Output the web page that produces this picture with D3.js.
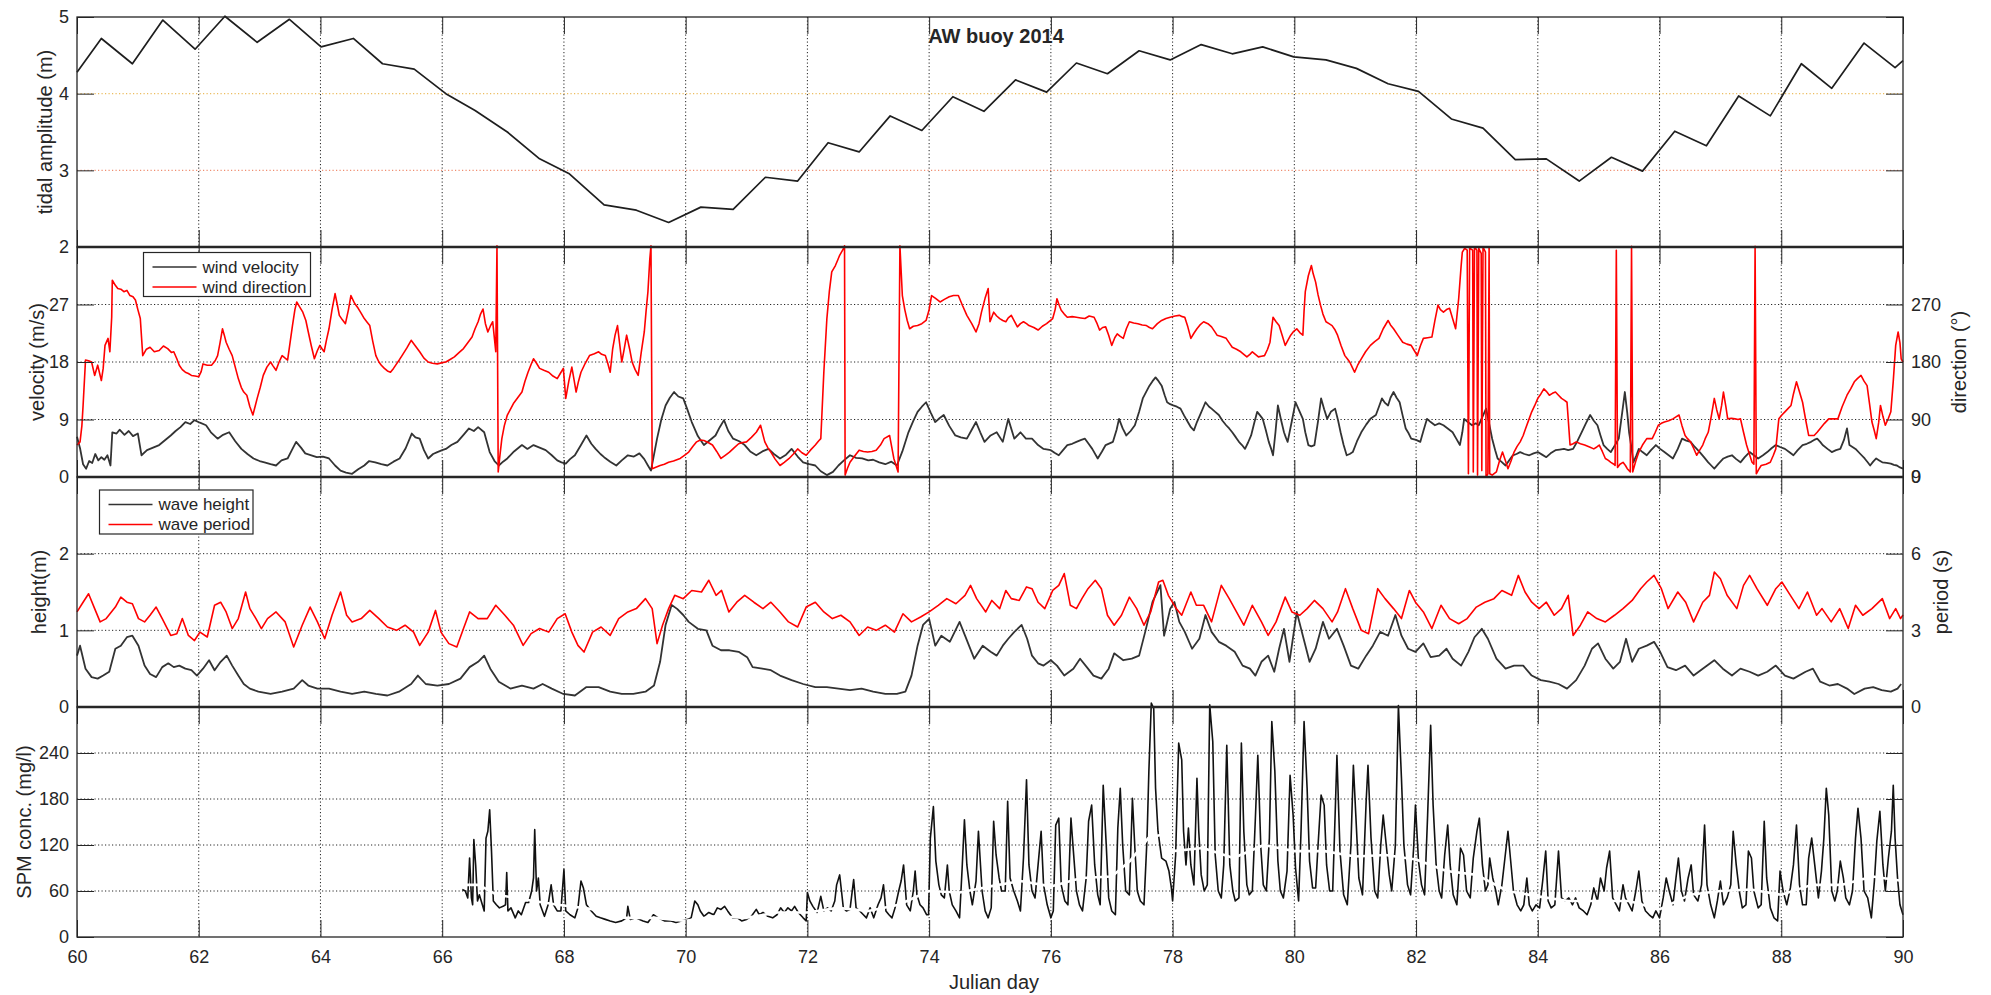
<!DOCTYPE html>
<html>
<head>
<meta charset="utf-8">
<script src="https://cdn.jsdelivr.net/npm/d3@7"></script>
<style>
  body { margin: 0; background: #fff; }
  svg { display: block; }
  text { font-family: "Liberation Sans", Arial, Helvetica, sans-serif; fill: #262626; }
</style>
</head>
<body>
<svg id="chart" width="1991" height="995"></svg>
<script>
// ---------- tick values ----------
const dayTicks = [60, 62, 64, 66, 68, 70, 72, 74, 76, 78, 80, 82, 84, 86, 88, 90];
const tideTicks = [2, 3, 4, 5];
const speedTicks = [0, 9, 18, 27];
const dirTicks = [0, 90, 180, 270];
const heightTicks = [0, 1, 2];
const periodTicks = [0, 3, 6];
const spmTicks = [0, 60, 120, 180, 240];

// ---------- series: [julian day, value] ----------
const tidalAmplitude = [[60.0,4.28],[60.4,4.72],[60.91,4.39],[61.41,4.96],[61.94,4.58],[62.43,5.01],[62.96,4.67],[63.49,4.97],[64.01,4.61],[64.54,4.72],[65.02,4.39],[65.54,4.32],[66.06,4.0],[66.54,3.78],[67.07,3.5],[67.6,3.15],[68.08,2.96],[68.66,2.55],[69.19,2.48],[69.72,2.32],[70.25,2.52],[70.78,2.49],[71.31,2.91],[71.84,2.86],[72.34,3.36],[72.85,3.24],[73.36,3.71],[73.88,3.52],[74.39,3.96],[74.9,3.77],[75.42,4.18],[75.93,4.02],[76.42,4.4],[76.93,4.26],[77.45,4.56],[77.96,4.44],[78.47,4.64],[78.98,4.52],[79.48,4.61],[79.99,4.48],[80.52,4.44],[81.02,4.33],[81.54,4.13],[82.04,4.03],[82.58,3.67],[83.1,3.55],[83.63,3.14],[84.14,3.15],[84.68,2.86],[85.21,3.17],[85.72,2.99],[86.25,3.51],[86.77,3.32],[87.3,3.97],[87.82,3.71],[88.33,4.39],[88.83,4.07],[89.36,4.66],[89.87,4.34],[90.0,4.43]];

const windVelocity = [[60.0,6.3],[60.05,4.5],[60.1,2.0],[60.15,1.3],[60.2,2.5],[60.25,2.2],[60.3,3.6],[60.35,2.6],[60.4,3.1],[60.45,2.7],[60.5,3.4],[60.55,1.8],[60.58,7.0],[60.65,6.8],[60.7,7.4],[60.78,6.6],[60.85,7.2],[60.92,6.4],[61.0,6.8],[61.06,3.4],[61.15,4.2],[61.25,4.6],[61.35,5.0],[61.45,5.8],[61.54,6.5],[61.62,7.2],[61.7,7.8],[61.78,8.6],[61.86,8.3],[61.93,8.9],[62.02,8.5],[62.12,8.1],[62.2,7.0],[62.31,6.0],[62.4,6.6],[62.5,7.0],[62.6,5.6],[62.7,4.4],[62.8,3.6],[62.9,2.9],[63.0,2.5],[63.08,2.3],[63.18,2.0],[63.27,1.8],[63.36,2.6],[63.46,2.9],[63.53,4.2],[63.6,5.5],[63.68,4.6],[63.75,3.7],[63.85,3.4],[63.94,3.1],[64.04,3.2],[64.14,2.9],[64.24,1.8],[64.33,1.0],[64.42,0.7],[64.52,0.5],[64.62,1.2],[64.72,1.8],[64.8,2.5],[64.9,2.3],[65.0,2.0],[65.1,1.8],[65.2,2.4],[65.3,2.9],[65.4,4.5],[65.5,6.8],[65.56,6.2],[65.63,6.0],[65.7,4.2],[65.77,2.9],[65.85,3.6],[65.92,3.9],[66.0,4.2],[66.06,4.4],[66.15,5.0],[66.25,5.5],[66.35,6.6],[66.44,7.6],[66.52,7.2],[66.59,7.8],[66.69,7.0],[66.78,3.9],[66.86,2.5],[66.93,1.8],[67.0,2.4],[67.07,2.9],[67.18,4.0],[67.31,5.0],[67.4,4.4],[67.5,5.0],[67.6,4.6],[67.7,4.2],[67.8,3.4],[67.89,2.6],[67.96,2.3],[68.03,2.1],[68.1,2.8],[68.18,3.4],[68.28,5.0],[68.37,6.5],[68.45,5.2],[68.52,4.4],[68.6,3.6],[68.66,3.1],[68.76,2.4],[68.86,1.8],[68.95,2.6],[69.05,3.4],[69.15,3.2],[69.24,3.7],[69.32,2.8],[69.38,1.8],[69.43,1.0],[69.48,3.5],[69.53,6.0],[69.6,9.0],[69.67,11.2],[69.74,12.4],[69.81,13.3],[69.88,12.6],[69.96,12.3],[70.03,10.5],[70.1,8.6],[70.2,6.4],[70.3,5.0],[70.4,5.8],[70.49,6.5],[70.56,7.8],[70.63,8.9],[70.7,7.2],[70.78,6.0],[70.88,5.6],[70.97,5.0],[71.06,4.0],[71.16,3.4],[71.26,4.0],[71.36,4.4],[71.45,3.6],[71.55,2.9],[71.65,3.5],[71.74,4.4],[71.84,3.2],[71.93,2.3],[72.03,2.0],[72.13,1.8],[72.22,0.9],[72.32,0.3],[72.42,0.8],[72.51,1.8],[72.6,2.6],[72.7,3.4],[72.8,3.0],[72.9,2.9],[73.0,2.6],[73.08,2.7],[73.18,2.3],[73.28,2.0],[73.38,2.4],[73.47,1.8],[73.56,4.0],[73.66,7.0],[73.74,8.8],[73.81,10.2],[73.88,11.0],[73.95,11.7],[74.03,10.0],[74.1,8.6],[74.17,9.2],[74.24,9.7],[74.33,8.0],[74.43,6.5],[74.52,6.2],[74.62,6.0],[74.7,7.4],[74.77,8.6],[74.84,7.0],[74.91,5.5],[75.01,6.5],[75.11,7.0],[75.21,5.5],[75.3,9.1],[75.4,6.0],[75.5,7.0],[75.59,6.0],[75.69,6.0],[75.79,5.0],[75.88,4.4],[76.0,4.2],[76.06,3.8],[76.13,3.4],[76.2,4.2],[76.27,5.0],[76.35,5.2],[76.42,5.5],[76.5,5.8],[76.56,6.0],[76.62,5.2],[76.68,4.4],[76.77,2.9],[76.84,4.0],[76.9,5.0],[77.02,5.5],[77.08,7.4],[77.12,9.1],[77.18,7.6],[77.24,6.5],[77.31,7.2],[77.38,8.1],[77.45,10.2],[77.51,12.3],[77.57,13.4],[77.62,14.3],[77.67,15.0],[77.72,15.6],[77.77,15.0],[77.82,14.3],[77.87,12.8],[77.91,11.7],[77.96,11.4],[78.01,11.2],[78.07,11.0],[78.13,10.7],[78.19,9.6],[78.25,8.6],[78.3,7.8],[78.35,7.3],[78.4,8.6],[78.45,9.7],[78.5,10.8],[78.54,11.7],[78.6,11.0],[78.64,10.7],[78.7,10.2],[78.76,9.7],[78.82,8.8],[78.88,8.1],[78.93,7.6],[78.98,7.0],[79.04,6.2],[79.09,5.5],[79.14,5.0],[79.19,4.4],[79.24,5.4],[79.29,6.5],[79.34,8.4],[79.39,10.2],[79.44,9.6],[79.48,9.1],[79.53,7.4],[79.58,5.5],[79.62,4.4],[79.65,3.4],[79.69,7.0],[79.73,11.2],[79.78,9.0],[79.83,7.0],[79.86,6.2],[79.89,5.5],[79.96,8.8],[80.02,11.7],[80.08,10.4],[80.14,9.1],[80.18,7.0],[80.23,5.0],[80.28,4.8],[80.33,5.0],[80.39,8.8],[80.44,12.3],[80.49,10.6],[80.54,9.1],[80.6,10.2],[80.67,10.7],[80.72,8.8],[80.76,7.0],[80.81,5.0],[80.86,3.4],[80.91,3.6],[80.96,3.9],[81.03,5.6],[81.1,7.0],[81.18,8.2],[81.25,9.1],[81.34,9.7],[81.39,11.0],[81.44,12.3],[81.49,11.6],[81.54,11.2],[81.58,12.4],[81.63,13.3],[81.68,12.4],[81.73,11.7],[81.78,9.6],[81.83,7.6],[81.88,6.8],[81.92,6.0],[82.0,5.8],[82.07,5.5],[82.12,7.2],[82.18,9.1],[82.24,8.6],[82.31,8.1],[82.38,8.4],[82.45,8.1],[82.52,7.6],[82.6,7.0],[82.66,6.0],[82.72,5.0],[82.76,7.0],[82.79,9.1],[82.85,8.6],[82.92,8.1],[82.98,8.4],[83.03,8.1],[83.09,9.4],[83.15,10.7],[83.2,8.4],[83.25,6.0],[83.3,4.2],[83.34,2.9],[83.4,2.4],[83.47,1.8],[83.53,2.6],[83.59,3.4],[83.65,3.6],[83.71,3.9],[83.78,3.6],[83.86,3.4],[83.93,3.7],[84.0,3.9],[84.07,3.5],[84.14,3.1],[84.21,3.7],[84.29,4.2],[84.36,4.3],[84.43,4.4],[84.5,4.2],[84.58,4.4],[84.65,5.6],[84.72,7.0],[84.79,8.4],[84.86,9.7],[84.92,8.8],[84.98,8.1],[85.03,6.5],[85.08,5.0],[85.14,4.4],[85.2,3.9],[85.27,5.0],[85.33,6.0],[85.38,9.6],[85.43,13.3],[85.47,10.0],[85.5,7.0],[85.54,4.5],[85.57,2.3],[85.62,3.4],[85.66,4.4],[85.72,3.9],[85.79,3.4],[85.86,4.2],[85.94,5.0],[86.01,4.4],[86.08,3.9],[86.15,3.4],[86.22,2.9],[86.3,4.4],[86.37,6.0],[86.44,5.7],[86.51,5.5],[86.58,4.7],[86.66,3.9],[86.73,3.1],[86.8,2.3],[86.85,1.8],[86.9,1.3],[86.97,2.1],[87.05,2.9],[87.12,3.2],[87.19,3.4],[87.26,2.8],[87.33,2.3],[87.4,3.1],[87.48,3.9],[87.55,3.4],[87.62,2.9],[87.7,3.4],[87.77,3.9],[87.84,4.5],[87.91,5.0],[87.98,4.7],[88.06,4.4],[88.13,3.9],[88.2,3.4],[88.27,4.2],[88.35,5.0],[88.42,5.2],[88.49,5.5],[88.54,5.8],[88.59,6.0],[88.64,5.5],[88.68,5.0],[88.76,4.4],[88.83,3.9],[88.9,4.2],[88.97,4.4],[89.03,5.8],[89.08,7.6],[89.12,5.0],[89.17,4.7],[89.22,4.4],[89.3,3.6],[89.37,2.9],[89.42,2.3],[89.46,1.8],[89.51,2.4],[89.56,2.9],[89.61,2.6],[89.66,2.3],[89.73,2.2],[89.8,2.1],[89.85,1.9],[89.9,1.8],[89.95,1.5],[90.0,1.3]];

const windDirection = [[60.0,50],[60.05,55],[60.08,80],[60.1,112],[60.14,183],[60.19,182],[60.24,180],[60.29,159],[60.34,175],[60.4,151],[60.43,170],[60.46,206],[60.51,217],[60.54,196],[60.57,250],[60.58,308],[60.63,300],[60.67,295],[60.72,294],[60.77,290],[60.82,292],[60.87,284],[60.92,282],[60.96,277],[61.0,262],[61.04,248],[61.08,190],[61.14,200],[61.2,203],[61.27,196],[61.35,198],[61.42,205],[61.49,201],[61.55,195],[61.59,196],[61.64,185],[61.68,175],[61.73,168],[61.78,164],[61.83,162],[61.88,159],[61.94,158],[62.0,157],[62.04,165],[62.07,177],[62.14,175],[62.21,175],[62.27,182],[62.31,190],[62.35,210],[62.39,232],[62.42,222],[62.45,211],[62.5,200],[62.55,190],[62.6,172],[62.65,154],[62.7,140],[62.74,133],[62.79,128],[62.84,110],[62.89,97],[62.93,112],[62.96,123],[63.01,140],[63.06,159],[63.12,172],[63.18,180],[63.22,174],[63.27,167],[63.32,180],[63.37,190],[63.42,186],[63.46,183],[63.5,210],[63.54,237],[63.58,262],[63.61,274],[63.66,266],[63.71,258],[63.76,245],[63.8,227],[63.85,205],[63.9,185],[63.95,198],[63.99,206],[64.03,200],[64.06,196],[64.1,215],[64.14,232],[64.19,262],[64.24,287],[64.28,268],[64.31,253],[64.36,246],[64.41,240],[64.46,262],[64.5,284],[64.56,272],[64.62,264],[64.67,256],[64.72,248],[64.77,242],[64.81,237],[64.86,212],[64.91,190],[64.96,180],[65.0,175],[65.05,170],[65.1,166],[65.15,164],[65.2,170],[65.25,177],[65.3,184],[65.34,190],[65.42,202],[65.49,214],[65.56,205],[65.63,196],[65.7,186],[65.77,180],[65.84,178],[65.92,177],[66.0,179],[66.06,180],[66.13,184],[66.2,188],[66.28,195],[66.35,201],[66.42,210],[66.49,219],[66.54,232],[66.59,243],[66.63,255],[66.67,263],[66.71,240],[66.75,227],[66.79,236],[66.83,243],[66.86,215],[66.88,196],[66.9,362],[66.92,8],[66.95,35],[66.98,60],[67.02,80],[67.07,97],[67.12,106],[67.17,115],[67.24,124],[67.31,133],[67.36,150],[67.41,164],[67.46,176],[67.5,185],[67.55,178],[67.6,170],[67.67,167],[67.75,164],[67.82,158],[67.89,154],[67.94,162],[67.99,170],[68.03,123],[68.08,150],[68.13,172],[68.17,150],[68.2,133],[68.24,150],[68.28,164],[68.35,178],[68.42,190],[68.5,193],[68.57,196],[68.62,192],[68.68,190],[68.72,178],[68.76,164],[68.8,200],[68.84,222],[68.88,237],[68.92,205],[68.95,180],[68.99,200],[69.03,222],[69.08,200],[69.12,180],[69.17,168],[69.22,159],[69.27,195],[69.32,227],[69.35,260],[69.38,290],[69.41,340],[69.43,362],[69.45,13],[69.5,15],[69.58,18],[69.65,20],[69.72,23],[69.8,25],[69.91,29],[69.98,34],[70.05,39],[70.12,48],[70.18,55],[70.24,58],[70.3,57],[70.37,54],[70.44,50],[70.51,40],[70.58,29],[70.65,34],[70.72,39],[70.8,46],[70.87,52],[70.94,54],[71.0,55],[71.08,62],[71.16,70],[71.23,81],[71.3,55],[71.35,46],[71.4,39],[71.47,28],[71.55,18],[71.62,23],[71.7,29],[71.77,36],[71.84,44],[71.91,38],[71.98,34],[72.05,42],[72.13,50],[72.18,56],[72.22,60],[72.27,164],[72.32,248],[72.36,290],[72.4,321],[72.46,331],[72.5,340],[72.53,347],[72.59,357],[72.61,362],[72.62,3],[72.66,14],[72.7,23],[72.77,32],[72.85,42],[72.92,40],[72.99,39],[73.06,40],[73.13,42],[73.2,50],[73.26,60],[73.35,65],[73.42,29],[73.49,8],[73.52,362],[73.56,284],[73.6,262],[73.64,245],[73.68,232],[73.74,236],[73.81,237],[73.88,240],[73.95,245],[74.0,262],[74.04,284],[74.1,280],[74.18,274],[74.25,278],[74.33,282],[74.4,284],[74.48,284],[74.55,268],[74.62,253],[74.7,240],[74.77,227],[74.82,240],[74.86,258],[74.92,280],[74.97,295],[75.0,243],[75.06,258],[75.11,252],[75.16,248],[75.21,245],[75.26,243],[75.3,249],[75.35,253],[75.4,244],[75.45,235],[75.5,240],[75.55,243],[75.6,240],[75.64,237],[75.72,234],[75.79,230],[75.86,236],[75.93,240],[76.03,248],[76.07,262],[76.1,279],[76.14,268],[76.17,261],[76.22,255],[76.27,250],[76.35,251],[76.42,250],[76.49,249],[76.56,248],[76.63,252],[76.71,250],[76.76,240],[76.8,230],[76.85,234],[76.9,235],[76.95,222],[77.0,206],[77.05,218],[77.09,224],[77.14,220],[77.19,217],[77.24,232],[77.29,243],[77.36,241],[77.43,240],[77.5,238],[77.57,237],[77.62,234],[77.67,232],[77.75,240],[77.82,245],[77.89,248],[77.96,250],[78.04,252],[78.11,253],[78.16,251],[78.2,250],[78.25,235],[78.3,217],[78.35,225],[78.4,232],[78.45,238],[78.51,243],[78.58,240],[78.64,235],[78.69,228],[78.73,222],[78.8,220],[78.88,217],[78.93,210],[78.98,203],[79.05,200],[79.12,196],[79.17,192],[79.22,188],[79.27,192],[79.31,196],[79.36,192],[79.41,188],[79.46,189],[79.51,190],[79.56,200],[79.6,211],[79.63,235],[79.65,250],[79.7,243],[79.75,237],[79.8,222],[79.85,206],[79.9,215],[79.94,222],[79.99,228],[80.04,232],[80.09,226],[80.14,222],[80.16,260],[80.18,290],[80.23,315],[80.28,331],[80.31,318],[80.35,305],[80.39,285],[80.43,269],[80.47,255],[80.52,243],[80.57,240],[80.62,237],[80.67,230],[80.71,222],[80.77,205],[80.83,190],[80.87,185],[80.91,180],[80.95,172],[80.99,164],[81.04,175],[81.1,185],[81.17,196],[81.25,206],[81.32,212],[81.39,217],[81.46,232],[81.54,245],[81.58,238],[81.63,232],[81.7,222],[81.78,211],[81.85,208],[81.92,206],[81.97,198],[82.02,190],[82.07,205],[82.12,217],[82.19,218],[82.26,219],[82.31,245],[82.36,269],[82.4,262],[82.45,258],[82.5,262],[82.55,264],[82.6,248],[82.65,232],[82.7,279],[82.74,330],[82.76,352],[82.8,358],[82.84,355],[82.86,5],[82.88,358],[82.93,355],[82.94,8],[82.96,360],[83.0,355],[83.01,3],[83.03,358],[83.07,350],[83.08,10],[83.1,360],[83.14,352],[83.15,0],[83.18,5],[83.2,360],[83.21,5],[83.25,3],[83.32,8],[83.37,25],[83.42,39],[83.47,25],[83.51,13],[83.56,25],[83.61,39],[83.66,48],[83.71,55],[83.76,65],[83.8,76],[83.85,89],[83.9,102],[83.95,112],[84.0,123],[84.05,130],[84.1,138],[84.15,133],[84.19,128],[84.24,131],[84.29,133],[84.34,128],[84.39,123],[84.44,120],[84.48,117],[84.53,50],[84.58,52],[84.63,55],[84.7,52],[84.77,50],[84.85,47],[84.92,44],[84.97,47],[85.01,50],[85.06,40],[85.11,29],[85.16,26],[85.2,23],[85.25,20],[85.27,18],[85.29,355],[85.31,15],[85.35,20],[85.4,23],[85.44,18],[85.47,13],[85.52,8],[85.54,361],[85.56,8],[85.61,25],[85.66,39],[85.72,50],[85.79,60],[85.84,60],[85.88,60],[85.93,70],[85.98,81],[86.03,84],[86.08,86],[86.15,88],[86.22,91],[86.27,94],[86.32,97],[86.37,80],[86.42,65],[86.46,60],[86.51,55],[86.56,45],[86.61,34],[86.66,42],[86.71,50],[86.75,60],[86.8,70],[86.85,95],[86.9,123],[86.94,105],[86.98,91],[87.02,112],[87.05,133],[87.09,110],[87.12,91],[87.18,92],[87.24,91],[87.29,90],[87.33,91],[87.38,70],[87.43,50],[87.48,35],[87.52,23],[87.55,20],[87.57,361],[87.59,5],[87.63,12],[87.67,18],[87.75,20],[87.82,23],[87.87,34],[87.91,44],[87.96,91],[88.01,97],[88.06,102],[88.11,107],[88.16,112],[88.2,130],[88.25,149],[88.3,133],[88.35,117],[88.4,90],[88.45,65],[88.5,65],[88.54,65],[88.59,70],[88.64,76],[88.71,84],[88.78,91],[88.85,91],[88.93,91],[89.0,110],[89.08,128],[89.14,138],[89.2,149],[89.25,154],[89.31,159],[89.36,150],[89.41,143],[89.45,115],[89.49,86],[89.53,72],[89.56,60],[89.6,85],[89.63,112],[89.67,95],[89.71,81],[89.76,92],[89.8,102],[89.84,150],[89.88,206],[89.92,227],[89.95,210],[89.97,185],[90.0,180]];

const waveHeight = [[60.0,0.67],[60.05,0.8],[60.14,0.5],[60.24,0.39],[60.34,0.37],[60.43,0.41],[60.53,0.46],[60.63,0.76],[60.72,0.8],[60.82,0.91],[60.91,0.93],[61.01,0.8],[61.11,0.54],[61.2,0.43],[61.3,0.39],[61.4,0.52],[61.5,0.57],[61.59,0.52],[61.68,0.54],[61.78,0.5],[61.88,0.48],[61.97,0.41],[62.07,0.5],[62.17,0.61],[62.26,0.48],[62.36,0.59],[62.46,0.67],[62.55,0.54],[62.65,0.41],[62.74,0.3],[62.84,0.24],[62.98,0.2],[63.18,0.17],[63.37,0.2],[63.56,0.24],[63.7,0.35],[63.8,0.28],[63.95,0.24],[64.14,0.24],[64.33,0.2],[64.52,0.17],[64.72,0.2],[64.91,0.17],[65.1,0.15],[65.29,0.2],[65.49,0.3],[65.6,0.41],[65.73,0.3],[65.92,0.28],[66.11,0.3],[66.3,0.37],[66.45,0.52],[66.59,0.59],[66.69,0.67],[66.79,0.5],[66.93,0.33],[67.12,0.24],[67.31,0.28],[67.5,0.24],[67.65,0.3],[67.8,0.24],[67.99,0.17],[68.18,0.15],[68.37,0.26],[68.57,0.26],[68.76,0.2],[68.95,0.17],[69.14,0.17],[69.34,0.2],[69.48,0.28],[69.58,0.59],[69.67,1.07],[69.77,1.33],[69.86,1.28],[69.96,1.2],[70.05,1.11],[70.2,1.02],[70.34,1.0],[70.44,0.8],[70.58,0.74],[70.72,0.74],[70.87,0.72],[71.01,0.65],[71.1,0.52],[71.26,0.5],[71.4,0.48],[71.55,0.41],[71.74,0.35],[71.93,0.3],[72.13,0.26],[72.32,0.26],[72.51,0.24],[72.7,0.22],[72.89,0.24],[73.08,0.2],[73.28,0.17],[73.47,0.17],[73.61,0.2],[73.71,0.41],[73.81,0.8],[73.9,1.07],[74.0,1.15],[74.1,0.8],[74.2,0.93],[74.34,0.85],[74.5,1.11],[74.59,0.93],[74.74,0.63],[74.88,0.8],[75.01,0.72],[75.11,0.67],[75.21,0.8],[75.3,0.89],[75.4,0.98],[75.52,1.07],[75.61,0.89],[75.69,0.67],[75.79,0.57],[75.88,0.54],[76.0,0.61],[76.1,0.54],[76.22,0.41],[76.37,0.5],[76.48,0.63],[76.61,0.5],[76.7,0.41],[76.83,0.37],[76.95,0.5],[77.04,0.7],[77.19,0.61],[77.33,0.63],[77.45,0.67],[77.55,0.98],[77.67,1.37],[77.8,1.59],[77.86,0.93],[77.96,1.28],[78.03,1.37],[78.11,1.11],[78.2,0.98],[78.32,0.76],[78.44,0.89],[78.54,1.2],[78.64,0.98],[78.76,0.85],[78.88,0.8],[79.02,0.72],[79.15,0.54],[79.27,0.5],[79.36,0.41],[79.46,0.59],[79.57,0.67],[79.67,0.46],[79.75,0.76],[79.83,1.02],[79.92,0.59],[80.04,1.24],[80.14,0.93],[80.25,0.59],[80.35,0.76],[80.47,1.11],[80.57,0.89],[80.7,1.02],[80.81,0.8],[80.93,0.54],[81.05,0.5],[81.18,0.67],[81.29,0.8],[81.41,0.98],[81.54,0.93],[81.66,1.2],[81.76,0.93],[81.87,0.76],[81.99,0.72],[82.12,0.83],[82.24,0.65],[82.38,0.67],[82.5,0.76],[82.6,0.63],[82.74,0.54],[82.86,0.72],[82.96,0.91],[83.08,1.02],[83.18,0.89],[83.32,0.63],[83.47,0.5],[83.61,0.54],[83.76,0.54],[83.9,0.41],[84.05,0.35],[84.19,0.33],[84.34,0.3],[84.48,0.24],[84.63,0.35],[84.77,0.54],[84.89,0.76],[84.99,0.83],[85.11,0.63],[85.24,0.5],[85.35,0.59],[85.45,0.89],[85.55,0.59],[85.66,0.76],[85.79,0.8],[85.91,0.85],[86.01,0.72],[86.13,0.52],[86.27,0.48],[86.42,0.54],[86.56,0.41],[86.71,0.5],[86.9,0.61],[87.04,0.5],[87.19,0.41],[87.33,0.5],[87.48,0.46],[87.62,0.41],[87.77,0.46],[87.91,0.54],[88.06,0.41],[88.2,0.37],[88.4,0.46],[88.52,0.5],[88.64,0.33],[88.79,0.28],[88.93,0.3],[89.08,0.24],[89.2,0.17],[89.37,0.24],[89.51,0.26],[89.65,0.22],[89.8,0.2],[89.91,0.24],[89.97,0.3]];

const wavePeriod = [[60.0,3.72],[60.1,4.1],[60.19,4.43],[60.29,3.85],[60.38,3.33],[60.48,3.46],[60.63,3.91],[60.72,4.3],[60.82,4.1],[60.91,4.04],[61.01,3.46],[61.11,3.33],[61.2,3.59],[61.3,3.91],[61.4,3.46],[61.54,2.8],[61.64,2.87],[61.73,3.46],[61.83,2.8],[61.93,2.6],[62.02,2.93],[62.14,2.74],[62.26,3.98],[62.36,4.1],[62.45,3.72],[62.55,3.07],[62.65,3.46],[62.77,4.5],[62.84,3.85],[62.94,3.46],[63.03,3.07],[63.13,3.46],[63.27,3.72],[63.42,3.33],[63.56,2.35],[63.7,3.2],[63.83,3.91],[63.95,3.33],[64.07,2.67],[64.19,3.59],[64.33,4.5],[64.43,3.59],[64.52,3.33],[64.67,3.46],[64.81,3.78],[64.96,3.46],[65.1,3.13],[65.25,3.0],[65.39,3.2],[65.53,2.93],[65.63,2.41],[65.77,2.93],[65.89,3.78],[65.98,2.93],[66.11,2.48],[66.24,2.35],[66.35,3.07],[66.45,3.72],[66.59,3.46],[66.74,3.46],[66.88,3.98],[67.03,3.59],[67.17,3.2],[67.33,2.41],[67.46,2.87],[67.6,3.07],[67.75,2.93],[67.89,3.46],[68.02,3.65],[68.13,2.93],[68.23,2.41],[68.33,2.15],[68.47,2.93],[68.61,3.13],[68.76,2.8],[68.9,3.46],[69.05,3.72],[69.19,3.85],[69.34,4.24],[69.45,3.85],[69.53,2.48],[69.62,3.2],[69.72,3.85],[69.82,4.37],[69.96,4.24],[70.1,4.56],[70.26,4.5],[70.38,4.96],[70.5,4.37],[70.59,4.56],[70.71,3.72],[70.84,4.1],[70.97,4.37],[71.12,4.1],[71.27,3.85],[71.4,4.1],[71.55,3.72],[71.69,3.33],[71.84,3.13],[71.98,3.91],[72.13,4.1],[72.27,3.72],[72.41,3.46],[72.55,3.59],[72.7,3.33],[72.85,2.8],[72.99,3.13],[73.13,3.0],[73.28,3.2],[73.43,2.93],[73.57,3.65],[73.71,3.33],[73.86,3.52],[74.0,3.72],[74.15,3.98],[74.29,4.24],[74.44,4.04],[74.59,4.37],[74.68,4.76],[74.78,4.24],[74.93,3.72],[75.03,4.17],[75.16,3.85],[75.26,4.56],[75.35,4.24],[75.48,4.17],[75.6,4.7],[75.69,4.63],[75.79,4.1],[75.9,3.85],[76.03,4.56],[76.13,4.76],[76.22,5.22],[76.32,3.98],[76.42,3.85],[76.51,4.24],[76.61,4.63],[76.73,4.96],[76.83,4.63],[76.93,3.59],[77.04,3.2],[77.16,3.59],[77.29,4.3],[77.41,3.85],[77.53,3.2],[77.64,3.72],[77.77,4.89],[77.84,4.96],[77.93,4.37],[78.06,3.85],[78.15,3.59],[78.3,4.5],[78.39,3.98],[78.51,3.98],[78.64,3.33],[78.8,4.76],[78.93,4.24],[79.05,3.72],[79.17,3.2],[79.31,3.98],[79.46,3.33],[79.57,2.8],[79.7,3.33],[79.85,4.3],[79.96,3.72],[80.09,3.59],[80.21,3.85],[80.33,4.17],[80.47,3.85],[80.62,3.33],[80.71,3.72],[80.84,4.63],[80.96,3.85],[81.1,3.0],[81.22,2.87],[81.37,4.63],[81.49,4.24],[81.63,3.85],[81.76,3.46],[81.89,4.56],[81.99,4.1],[82.12,3.72],[82.26,3.07],[82.41,3.98],[82.55,3.46],[82.7,3.26],[82.84,3.46],[82.99,3.91],[83.13,4.1],[83.28,4.24],[83.41,4.56],[83.57,4.37],[83.68,5.15],[83.79,4.5],[83.9,4.1],[84.02,3.85],[84.14,4.1],[84.27,3.59],[84.39,3.85],[84.5,4.37],[84.58,2.8],[84.7,3.2],[84.82,3.72],[84.97,3.46],[85.11,3.33],[85.26,3.59],[85.4,3.85],[85.55,4.17],[85.69,4.63],[85.79,4.89],[85.91,5.15],[86.03,4.63],[86.14,3.85],[86.3,4.5],[86.43,4.1],[86.56,3.33],[86.71,4.1],[86.82,4.37],[86.9,5.28],[87.0,5.02],[87.11,4.37],[87.27,3.85],[87.38,4.76],[87.48,5.15],[87.6,4.63],[87.77,3.98],[87.91,4.63],[88.01,4.89],[88.15,4.37],[88.29,3.85],[88.43,4.5],[88.58,3.59],[88.67,3.85],[88.82,3.33],[88.96,3.85],[89.1,3.07],[89.22,3.98],[89.34,3.59],[89.49,3.85],[89.66,4.24],[89.78,3.46],[89.88,3.85],[89.96,3.46],[90.0,3.6]];

const spmConc = [[66.33,62],[66.38,60],[66.42,51],[66.45,103],[66.48,51],[66.5,42],[66.52,127],[66.55,94],[66.58,47],[66.61,55],[66.66,42],[66.69,34],[66.72,129],[66.75,138],[66.78,166],[66.81,112],[66.84,47],[66.89,42],[66.94,38],[67.0,40],[67.04,42],[67.06,84],[67.08,34],[67.13,38],[67.2,25],[67.25,34],[67.3,29],[67.37,45],[67.42,45],[67.47,60],[67.5,77],[67.52,140],[67.55,60],[67.58,77],[67.61,42],[67.68,27],[67.74,42],[67.79,68],[67.83,42],[67.89,34],[67.95,34],[68.0,88],[68.03,34],[68.1,29],[68.18,25],[68.23,38],[68.28,73],[68.32,64],[68.37,42],[68.45,34],[68.53,27],[68.6,25],[68.68,23],[68.76,21],[68.85,19],[68.95,21],[69.03,25],[69.05,40],[69.09,23],[69.18,25],[69.3,21],[69.38,19],[69.47,29],[69.55,25],[69.65,21],[69.76,21],[69.84,19],[69.93,21],[70.04,23],[70.09,25],[70.15,47],[70.2,42],[70.24,34],[70.3,27],[70.38,32],[70.46,29],[70.52,38],[70.58,36],[70.64,40],[70.69,34],[70.77,25],[70.85,25],[70.92,21],[71.0,23],[71.08,27],[71.16,36],[71.21,29],[71.27,32],[71.35,27],[71.43,25],[71.5,29],[71.56,38],[71.62,32],[71.68,38],[71.74,34],[71.79,40],[71.85,32],[71.93,25],[71.98,21],[72.0,58],[72.04,47],[72.09,40],[72.16,32],[72.22,53],[72.27,34],[72.33,38],[72.39,34],[72.45,47],[72.48,68],[72.53,81],[72.56,60],[72.59,38],[72.64,34],[72.7,36],[72.76,75],[72.8,38],[72.86,34],[72.92,29],[72.97,25],[73.03,38],[73.09,25],[73.16,42],[73.21,51],[73.25,68],[73.29,34],[73.34,29],[73.39,25],[73.44,38],[73.5,60],[73.54,73],[73.58,94],[73.63,42],[73.69,34],[73.74,60],[73.77,86],[73.8,55],[73.85,42],[73.9,38],[73.96,29],[73.99,29],[74.02,129],[74.07,170],[74.11,99],[74.16,68],[74.2,55],[74.25,51],[74.3,94],[74.33,60],[74.38,42],[74.44,34],[74.5,25],[74.54,86],[74.58,153],[74.62,94],[74.67,60],[74.71,42],[74.77,73],[74.81,138],[74.87,60],[74.92,34],[74.97,25],[75.02,38],[75.06,151],[75.1,107],[75.15,77],[75.19,60],[75.25,60],[75.29,177],[75.33,77],[75.39,60],[75.45,47],[75.5,34],[75.55,103],[75.6,205],[75.64,94],[75.69,60],[75.74,51],[75.79,94],[75.84,138],[75.88,68],[75.94,42],[76.0,25],[76.04,34],[76.08,146],[76.13,155],[76.17,68],[76.23,47],[76.28,42],[76.33,155],[76.37,112],[76.42,60],[76.47,42],[76.52,34],[76.58,77],[76.62,151],[76.67,172],[76.72,94],[76.77,55],[76.81,42],[76.86,198],[76.91,120],[76.95,51],[77.0,34],[77.06,29],[77.1,142],[77.14,194],[77.18,120],[77.23,60],[77.29,55],[77.34,181],[77.38,116],[77.42,60],[77.47,47],[77.53,42],[77.58,129],[77.61,216],[77.65,305],[77.69,298],[77.72,194],[77.76,138],[77.82,103],[77.89,99],[77.94,86],[77.98,64],[78.0,47],[78.05,107],[78.1,253],[78.15,231],[78.18,138],[78.22,94],[78.26,142],[78.3,94],[78.35,68],[78.4,207],[78.43,138],[78.47,81],[78.52,60],[78.57,68],[78.61,303],[78.66,255],[78.7,107],[78.75,60],[78.8,51],[78.84,94],[78.89,250],[78.94,94],[78.99,60],[79.03,47],[79.09,51],[79.13,253],[79.17,138],[79.22,68],[79.26,55],[79.31,60],[79.36,155],[79.4,237],[79.45,116],[79.49,68],[79.54,60],[79.59,129],[79.63,281],[79.68,216],[79.73,99],[79.77,60],[79.82,51],[79.88,86],[79.93,211],[79.98,159],[80.02,90],[80.07,47],[80.11,138],[80.16,281],[80.21,194],[80.25,99],[80.3,64],[80.35,64],[80.39,120],[80.44,185],[80.49,172],[80.53,94],[80.58,60],[80.63,60],[80.67,159],[80.7,237],[80.75,112],[80.81,55],[80.87,42],[80.93,120],[80.97,224],[81.01,159],[81.06,77],[81.12,55],[81.18,177],[81.21,224],[81.26,129],[81.32,60],[81.37,51],[81.42,120],[81.46,159],[81.51,120],[81.56,81],[81.6,60],[81.66,120],[81.71,302],[81.76,207],[81.8,120],[81.86,68],[81.91,55],[81.96,116],[81.99,172],[82.04,99],[82.09,68],[82.14,55],[82.19,159],[82.24,276],[82.28,172],[82.33,94],[82.38,60],[82.42,51],[82.47,107],[82.52,146],[82.56,94],[82.61,55],[82.67,42],[82.73,116],[82.78,107],[82.83,60],[82.89,51],[82.94,103],[83.0,138],[83.04,155],[83.09,94],[83.14,60],[83.18,68],[83.21,103],[83.26,77],[83.31,60],[83.35,42],[83.41,68],[83.46,103],[83.51,138],[83.55,103],[83.6,60],[83.66,42],[83.72,34],[83.77,42],[83.82,77],[83.86,42],[83.91,34],[83.97,42],[84.03,38],[84.08,73],[84.13,112],[84.17,47],[84.22,38],[84.28,42],[84.34,112],[84.39,51],[84.45,47],[84.51,51],[84.57,42],[84.62,51],[84.68,38],[84.75,34],[84.81,29],[84.87,42],[84.92,64],[84.98,47],[85.03,77],[85.09,60],[85.13,90],[85.18,112],[85.23,51],[85.29,42],[85.34,34],[85.4,68],[85.44,51],[85.5,42],[85.55,34],[85.61,60],[85.66,86],[85.71,47],[85.77,34],[85.83,29],[85.89,25],[85.94,34],[86.0,25],[86.06,51],[86.11,77],[86.16,60],[86.22,42],[86.27,77],[86.31,103],[86.36,60],[86.41,47],[86.47,77],[86.52,94],[86.56,55],[86.63,47],[86.69,68],[86.74,146],[86.78,68],[86.84,42],[86.9,25],[86.95,47],[87.0,73],[87.05,42],[87.11,51],[87.17,68],[87.21,138],[87.26,94],[87.31,60],[87.36,38],[87.42,42],[87.46,112],[87.51,103],[87.55,60],[87.62,38],[87.67,42],[87.72,151],[87.76,77],[87.82,38],[87.88,25],[87.94,21],[87.98,86],[88.03,60],[88.09,42],[88.15,64],[88.2,94],[88.25,146],[88.3,68],[88.35,42],[88.41,42],[88.45,103],[88.5,129],[88.55,94],[88.61,51],[88.66,86],[88.7,129],[88.74,194],[88.78,159],[88.83,60],[88.88,47],[88.92,60],[88.97,99],[89.02,77],[89.06,51],[89.12,42],[89.17,60],[89.22,129],[89.26,168],[89.31,129],[89.36,60],[89.42,51],[89.48,25],[89.53,73],[89.57,125],[89.62,164],[89.67,94],[89.71,60],[89.76,103],[89.81,138],[89.84,198],[89.87,129],[89.91,77],[89.95,42],[90.0,29]];

const spmSmoothed = [[66.33,68],[66.6,68],[66.9,55],[67.5,47],[67.9,42],[68.5,36],[69.0,25],[69.5,25],[70.0,21],[70.5,27],[71.0,25],[71.5,32],[72.0,32],[72.5,38],[73.0,34],[73.5,42],[74.0,60],[74.5,58],[75.0,66],[75.5,73],[76.0,66],[76.5,77],[77.0,79],[77.3,99],[77.6,129],[77.8,133],[78.0,112],[78.5,116],[79.0,103],[79.5,120],[80.0,112],[80.5,112],[81.0,105],[81.5,107],[82.0,101],[82.5,86],[83.0,81],[83.5,60],[84.0,53],[84.5,47],[85.0,47],[85.5,47],[86.0,36],[86.5,55],[87.0,60],[87.5,62],[88.0,55],[88.5,68],[89.0,68],[89.5,79],[90.0,73]];

// ---------- layout ----------
const svg = d3.select("#chart");
const plotLeft = 77, plotRight = 1903;
const frameColor = "#262626";
const tickLen = 17;

const x = d3.scaleLinear().domain([60, 90]).range([plotLeft, plotRight]);
const yTide   = d3.scaleLinear().domain([2, 5]).range([247, 17]);
const ySpeed  = d3.scaleLinear().domain([0, 36]).range([477, 247]);
const yDir    = d3.scaleLinear().domain([0, 360]).range([477, 247]);
const yHeight = d3.scaleLinear().domain([0, 3]).range([707, 477]);
const yPeriod = d3.scaleLinear().domain([0, 9]).range([707, 477]);
const ySpm    = d3.scaleLinear().domain([0, 300]).range([937, 707]);

const panels = [
  { left: yTide,   leftTicks: tideTicks,   right: yTide,   rightTicks: tideTicks,   rightLabels: false },
  { left: ySpeed,  leftTicks: speedTicks,  right: yDir,    rightTicks: dirTicks,    rightLabels: true },
  { left: yHeight, leftTicks: heightTicks, right: yPeriod, rightTicks: periodTicks, rightLabels: true },
  { left: ySpm,    leftTicks: spmTicks,    right: ySpm,    rightTicks: spmTicks,    rightLabels: false }
];

// ---------- grid ----------
const gridLayer = svg.append("g");
const tideGridColor = { 3: "#ef8d70", 4: "#ecbc5e" };
panels.forEach((p, i) => {
  const [bottom, top] = p.left.range();
  gridLayer.selectAll(null)
    .data(dayTicks.filter(d => d > 60 && d < 90))
    .join("line")
    .attr("x1", d => x(d)).attr("x2", d => x(d))
    .attr("y1", top).attr("y2", bottom)
    .attr("stroke", frameColor).attr("stroke-width", 1)
    .attr("stroke-dasharray", "1.2,2.3");
  const [lo, hi] = p.left.domain();
  gridLayer.selectAll(null)
    .data(p.leftTicks.filter(v => v > lo && v < hi))
    .join("line")
    .attr("x1", plotLeft).attr("x2", plotRight)
    .attr("y1", v => p.left(v)).attr("y2", v => p.left(v))
    .attr("stroke", v => (i === 0 ? tideGridColor[v] : frameColor) || frameColor)
    .attr("stroke-width", i === 0 ? 1.3 : 1)
    .attr("stroke-dasharray", "1.2,2.3");
});

// ---------- series ----------
function drawLine(data, yScale, color, width) {
  svg.append("path")
    .datum(data)
    .attr("fill", "none")
    .attr("stroke", color)
    .attr("stroke-width", width)
    .attr("stroke-linejoin", "round")
    .attr("d", d3.line().x(d => x(d[0])).y(d => yScale(d[1])));
}
drawLine(tidalAmplitude, yTide, "#1e1e1e", 1.7);
drawLine(windVelocity, ySpeed, "#333333", 1.8);
drawLine(windDirection, yDir, "#ff0000", 1.6);
drawLine(waveHeight, yHeight, "#333333", 1.8);
drawLine(wavePeriod, yPeriod, "#ff0000", 1.6);
drawLine(spmConc, ySpm, "#111111", 1.6);
drawLine(spmSmoothed, ySpm, "#ffffff", 2.6);

// ---------- frames, ticks, tick labels ----------
const axisLayer = svg.append("g");
function styleAxis(g, labelSize) {
  g.select(".domain").remove();
  g.selectAll(".tick line").attr("stroke", frameColor).attr("stroke-width", 1);
  g.selectAll(".tick text").attr("fill", frameColor)
    .style("font-size", labelSize + "px")
    .style("font-family", '"Liberation Sans", Arial, Helvetica, sans-serif');
}
const noLabel = () => "";

panels.forEach((p, i) => {
  const [bottom, top] = p.left.range();
  // x ticks (top and bottom edges)
  axisLayer.append("g").attr("transform", `translate(0,${top})`)
    .call(d3.axisTop(x).tickValues(dayTicks).tickSize(-tickLen).tickFormat(noLabel))
    .call(g => styleAxis(g, 18));
  const isLast = i === panels.length - 1;
  axisLayer.append("g").attr("transform", `translate(0,${bottom})`)
    .call(d3.axisBottom(x).tickValues(dayTicks).tickSize(-tickLen).tickPadding(13)
      .tickFormat(isLast ? d3.format("d") : noLabel))
    .call(g => styleAxis(g, 18));
  // left axis
  axisLayer.append("g").attr("transform", `translate(${plotLeft},0)`)
    .call(d3.axisLeft(p.left).tickValues(p.leftTicks).tickSize(-tickLen).tickPadding(8)
      .tickFormat(d3.format("d")))
    .call(g => styleAxis(g, 18));
  // right axis
  axisLayer.append("g").attr("transform", `translate(${plotRight},0)`)
    .call(d3.axisRight(p.right).tickValues(p.rightTicks).tickSize(-tickLen).tickPadding(8)
      .tickFormat(p.rightLabels ? d3.format("d") : noLabel))
    .call(g => styleAxis(g, 18));
  // frame
  axisLayer.append("rect")
    .attr("x", plotLeft).attr("y", top)
    .attr("width", plotRight - plotLeft).attr("height", bottom - top)
    .attr("fill", "none").attr("stroke", frameColor).attr("stroke-width", 1.3);
});
// shared panel borders read heavier
[yTide.range()[0], ySpeed.range()[0], yHeight.range()[0]].forEach(yy => {
  axisLayer.append("line")
    .attr("x1", plotLeft).attr("x2", plotRight).attr("y1", yy).attr("y2", yy)
    .attr("stroke", frameColor).attr("stroke-width", 2.6);
});
// second label stacked at the bottom of the direction axis
axisLayer.append("text")
  .attr("x", plotRight + 8).attr("y", yDir(0)).attr("dy", "0.32em")
  .style("font-size", "18px").attr("fill", frameColor).text("9");

// ---------- axis titles ----------
function yTitle(text, cx, cy) {
  svg.append("text")
    .attr("transform", `translate(${cx},${cy}) rotate(-90)`)
    .attr("text-anchor", "middle").attr("dy", "0.35em")
    .style("font-size", "20px").text(text);
}
yTitle("tidal amplitude (m)", 45, (17 + 247) / 2);
yTitle("velocity (m/s)", 37, (247 + 477) / 2);
yTitle("height(m)", 39, (477 + 707) / 2);
yTitle("SPM conc. (mg/l)", 24, (707 + 937) / 2);
yTitle("direction (°)", 1959, (247 + 477) / 2);
yTitle("period (s)", 1941, (477 + 707) / 2);

svg.append("text")
  .attr("x", 994).attr("y", 989).attr("text-anchor", "middle")
  .style("font-size", "20px").text("Julian day");

svg.append("text")
  .attr("x", 996).attr("y", 43).attr("text-anchor", "middle")
  .style("font-size", "20px").style("font-weight", "bold").attr("fill", "#000")
  .text("AW buoy 2014");

// ---------- legends ----------
function legend(x0, y0, w, h, items) {
  const g = svg.append("g");
  g.append("rect").attr("x", x0).attr("y", y0).attr("width", w).attr("height", h)
    .attr("fill", "#fff").attr("stroke", frameColor).attr("stroke-width", 1.2);
  items.forEach((it, k) => {
    const yy = y0 + 14.5 + k * 20;
    g.append("line").attr("x1", x0 + 9).attr("x2", x0 + 53).attr("y1", yy).attr("y2", yy)
      .attr("stroke", it.color).attr("stroke-width", 1.5);
    g.append("text").attr("x", x0 + 59).attr("y", yy).attr("dy", "0.35em")
      .style("font-size", "17px").attr("fill", "#000").text(it.label);
  });
}
legend(143.5, 252.5, 167, 44, [
  { label: "wind velocity", color: "#333333" },
  { label: "wind direction", color: "#ff0000" }
]);
legend(99.5, 490, 153.5, 44, [
  { label: "wave height", color: "#333333" },
  { label: "wave period", color: "#ff0000" }
]);
</script>
</body>
</html>
